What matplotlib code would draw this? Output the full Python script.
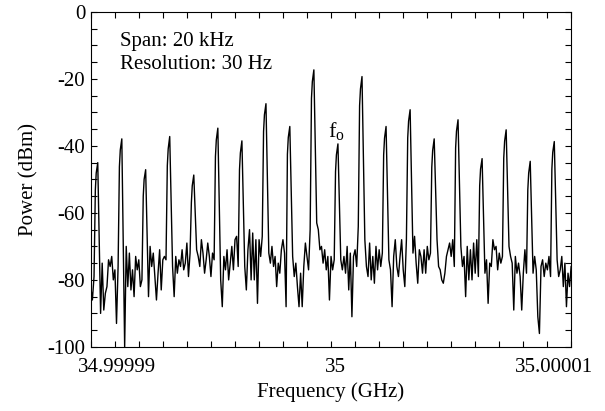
import numpy as np
import matplotlib.pyplot as plt
from matplotlib.ticker import FixedLocator, MultipleLocator

plt.rcParams['font.family'] = ['Liberation Serif', 'DejaVu Serif']
plt.rcParams['mathtext.fontset'] = 'custom'
plt.rcParams['mathtext.rm'] = 'Liberation Serif'
plt.rcParams['mathtext.it'] = 'Liberation Serif'

# frequency offset from 35 GHz in kHz
x_min, x_max = -11.18, 10.78
peak_khz = [-10.89, -9.79, -8.70, -7.60, -6.50, -5.40, -4.30, -3.20, -2.11, -1.01,
            0.09, 1.19, 2.29, 3.39, 4.49, 5.58, 6.68, 7.78, 8.88, 9.98]
peak_top = [-45.0, -37.9, -47.1, -37.2, -48.7, -34.7, -38.5, -27.4, -34.2, -17.3,
            -39.4, -19.3, -34.2, -29.2, -37.9, -32.2, -43.8, -35.2, -44.6, -38.7]
peak_shoulder = [-48.1, -41.2, -50.0, -40.9, -51.9, -38.2, -42.1, -30.7, -37.5, -20.8,
                 -42.7, -23.0, -37.7, -32.6, -41.4, -35.6, -46.9, -38.6, -48.1, -41.9]

# noise floor read between the peaks (dBm)
lead_noise = [-82, -86, -79]
gap_noise = [
    [-90, -75, -89, -84, -82, -74, -76, -73, -80, -77, -93, -76],
    [-100, -70, -82, -72, -83, -77, -85, -73, -77, -74, -82, -80],
    [-85, -70, -76, -72, -79, -86, -78, -71, -83, -74, -73, -74],
    [-76, -85, -73, -78, -74, -76, -71, -77, -75, -69, -79, -72],
    [-71, -73, -76, -68, -72, -78, -74, -69, -73, -79, -72, -74],
    [-80, -88, -73, -77, -71, -80, -75, -70, -77, -68, -67, -76],
    [-76, -83, -71, -65, -80, -66, -80, -68, -87, -68, -73, -67],
    [-72, -75, -70, -76, -73, -82, -75, -78, -71, -68, -72, -88],
    [-73, -79, -75, -82, -88, -78, -88, -76, -69, -73, -77, -65],
    [-63, -65, -71, -70, -75, -71, -77, -73, -86, -73, -77, -74],
    [-74, -77, -73, -78, -70, -83, -72, -91, -73, -71, -76, -64],
    [-68, -76, -79, -69, -80, -73, -81, -70, -77, -71, -76, -72],
    [-74, -77, -88, -73, -68, -76, -79, -73, -68, -77, -82, -68],
    [-72, -67, -75, -81, -71, -73, -78, -71, -78, -70, -74, -72],
    [-68, -76, -77, -80, -81, -78, -73, -71, -69, -73, -68, -76],
    [-70, -76, -73, -85, -70, -80, -71, -80, -69, -78, -68, -79],
    [-78, -74, -87, -75, -76, -68, -71, -70, -77, -72, -75, -73],
    [-70, -73, -75, -89, -73, -78, -75, -79, -89, -78, -71, -78],
    [-78, -73, -77, -91, -96, -76, -74, -79, -75, -77, -73, -79],
    [-74, -79, -77, -73, -82, -75, -88, -78, -82, -76],
]

xs = list(np.linspace(x_min, peak_khz[0] - 0.14, len(lead_noise)))
ys = list(lead_noise)
for k, f in enumerate(peak_khz):
    xs += [f - 0.08, f - 0.04, f + 0.03]
    ys += [peak_shoulder[k] - 5, peak_shoulder[k], peak_top[k]]
    end = peak_khz[k + 1] - 0.14 if k + 1 < len(peak_khz) else x_max
    xs += list(np.linspace(f + 0.16, end, len(gap_noise[k])))
    ys += gap_noise[k]

fig = plt.figure(figsize=(6.05, 4.11), dpi=100)
ax = fig.add_axes([0.150, 0.156, 0.794, 0.815])
ax.plot(xs, ys, color='black', lw=1.0)

ax.set_xlim(x_min, x_max)
ax.set_ylim(-100, 0)
ax.set_xticks([-10, 0, 10])
ax.set_xticklabels(['34.99999', '35', '35.00001'])
ax.xaxis.set_minor_locator(FixedLocator(np.linspace(x_min, x_max, 21)))
ax.set_yticks([0, -20, -40, -60, -80, -100])
ax.set_yticklabels(['0', '-20', '-40', '-60', '-80', '-100'])
ax.yaxis.set_minor_locator(MultipleLocator(5))
ax.tick_params(axis='both', which='both', direction='in', top=True, right=True,
               labelsize=15, width=0.8)
ax.tick_params(axis='x', which='major', length=0, pad=8)
ax.tick_params(axis='x', which='minor', length=4)
ax.tick_params(axis='y', which='both', length=4, pad=4)
for s in ax.spines.values():
    s.set_linewidth(0.8)

ax.set_xlabel('Frequency (GHz)', fontsize=15, labelpad=4)
ax.set_ylabel('Power (dBm)', fontsize=15, labelpad=6)

ax.text(0.06, 0.94, 'Span: 20 kHz\nResolution: 30 Hz', transform=ax.transAxes,
        fontsize=15, va='top', ha='left', linespacing=1.25)
ax.text(-0.32, -35.5, r'f$_{\mathrm{o}}$', fontsize=16, ha='left', va='center')

fig.savefig('out.png', dpi=100)
